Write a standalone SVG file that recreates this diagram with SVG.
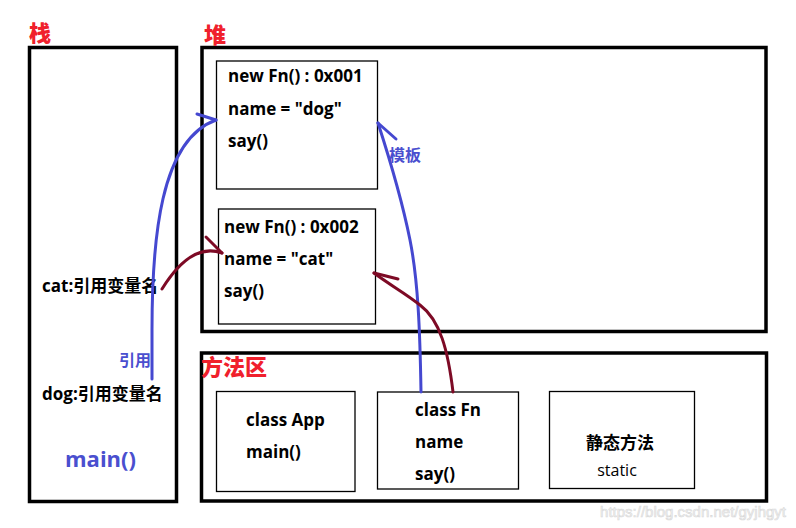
<svg xmlns="http://www.w3.org/2000/svg" width="796" height="528" viewBox="0 0 796 528">
<style>
.area{fill:none;stroke:#000;stroke-width:3.5}
.box{fill:#fff;stroke:#000;stroke-width:1.3}
.t{font-family:"Open Sans","Noto Sans CJK SC",sans-serif;font-weight:bold;font-size:17px;fill:#000}
.title{font-family:"Noto Sans CJK SC",sans-serif;font-weight:900;font-size:22px;fill:#f0202c}
.blue{fill:none;stroke:#4548d0;stroke-width:3;stroke-linecap:round}
.red{fill:none;stroke:#7d0a25;stroke-width:3;stroke-linecap:round}
.bl{font-family:"Open Sans","Noto Sans CJK SC",sans-serif;font-weight:bold;fill:#4a4fcf}
</style>
<rect width="796" height="528" fill="#fff"/>
<g id="stack">
<rect class="area" x="29.5" y="47.5" width="147" height="454"/>
<text class="title" x="29" y="41">栈</text>
<text class="t" x="42" y="292">cat:引用变量名</text>
<text class="t" x="42" y="400">dog:引用变量名</text>
<text class="bl" x="65" y="467" font-size="22">main()</text>
</g>
<g id="heap">
<rect class="area" x="202" y="47.5" width="564" height="284"/>
<text class="title" x="204" y="43">堆</text>
</g>
<g id="obj1">
<rect class="box" x="216.5" y="61" width="161" height="128"/>
<text class="t" x="228" y="82">new Fn() : 0x001</text>
<text class="t" x="228" y="115">name = "dog"</text>
<text class="t" x="228" y="147">say()</text>
</g>
<g id="obj2">
<rect class="box" x="218.5" y="209" width="157" height="115"/>
<text class="t" x="224" y="233">new Fn() : 0x002</text>
<text class="t" x="224" y="265">name = "cat"</text>
<text class="t" x="224" y="297">say()</text>
</g>
<g id="method">
<rect class="area" x="201.5" y="353" width="565" height="148"/>
<text class="title" x="201" y="375">方法区</text>
</g>
<g id="classApp">
<rect class="box" x="216.5" y="391.5" width="138.5" height="100"/>
<text class="t" x="246" y="426">class App</text>
<text class="t" x="246" y="458">main()</text>
</g>
<g id="classFn">
<rect class="box" x="377.5" y="392" width="141" height="97"/>
<text class="t" x="415" y="416">class Fn</text>
<text class="t" x="415" y="448">name</text>
<text class="t" x="415" y="480">say()</text>
</g>
<g id="static">
<rect class="box" x="549.5" y="391.5" width="145" height="97"/>
<text class="t" x="620" y="449" text-anchor="middle">静态方法</text>
<text x="617" y="476" text-anchor="middle" font-family="Open Sans, Noto Sans CJK SC, sans-serif" font-size="16" fill="#000">static</text>
</g>
<g id="connectors">
<path class="blue" d="M152,379 L152,330 C152,240 160,140 216,120"/>
<path class="blue" d="M216,120 L197,114"/>
<path class="blue" d="M421,392 C420,330 418,280 410,240 C402,200 390,160 378,123"/>
<path class="blue" d="M378,123 L396,139"/>
<path class="red" d="M162,289 C180,260 200,245 222,253"/>
<path class="red" d="M222,253 L206,237"/>
<path class="red" d="M453,392 C448,350 440,320 420,305 C405,293 390,285 374,273"/>
<path class="red" d="M374,273 L398,279"/>
<text class="bl" x="119" y="366" font-size="16">引用</text>
<text class="bl" x="389" y="161" font-size="16">模板</text>
</g>
<text x="786" y="517" text-anchor="end" font-family="Liberation Sans, sans-serif" font-size="15" fill="#f4f4f4" stroke="#d8d8d8" stroke-width="0.6">https://blog.csdn.net/gyjhgyt</text>
</svg>
